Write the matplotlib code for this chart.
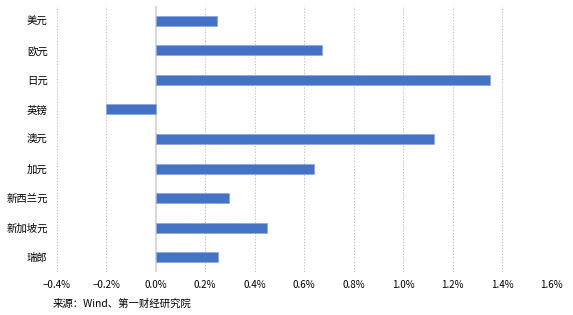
import matplotlib
matplotlib.use("Agg")
import matplotlib.pyplot as plt
from matplotlib.ticker import FuncFormatter

plt.rcParams['font.family'] = ['Noto Sans CJK SC', 'DejaVu Sans']

categories = ["美元", "欧元", "日元", "英镑", "澳元", "加元", "新西兰元", "新加坡元", "瑞郎"]
values = [0.246, 0.672, 1.352, -0.202, 1.123, 0.64, 0.296, 0.45, 0.251]
xticks = [-0.4, -0.2, 0.0, 0.2, 0.4, 0.6, 0.8, 1.0, 1.2, 1.4, 1.6]
source = "来源：Wind、第一财经研究院"

fig = plt.figure(figsize=(5.73, 3.15), dpi=100)
ax = fig.add_axes([0.099, 0.1365, 0.864, 0.8445])

ypos = list(range(len(categories)))
ax.barh(ypos, values, height=0.34, color="#4472C4", edgecolor="#8FAADC", linewidth=0.6, zorder=3)
ax.set_ylim(len(categories) - 0.5, -0.5)
ax.set_xlim(-0.4, 1.6)
ax.set_xticks(xticks)
ax.xaxis.set_major_formatter(FuncFormatter(lambda v, p: f"{v:.1f}%".replace("-", "−")))
ax.set_yticks(ypos)
ax.set_yticklabels(categories)
ax.tick_params(axis='both', length=0, labelsize=7, labelcolor="#000000")
ax.tick_params(axis='y', pad=6.5, labelsize=7.5)
ax.tick_params(axis='x', pad=6)

for x in xticks:
    if x == 0.0:
        ax.axvline(x, color="#D9D9D9", linewidth=1.5, zorder=2)
    else:
        ax.axvline(x, color="#C4C4C4", linewidth=0.7, linestyle=(0, (1.5, 1.5)), zorder=1)

for s in ax.spines.values():
    s.set_visible(False)

fig.text(53 / 573, 1 - 304 / 315, source, fontsize=7.5, va="center", ha="left")

fig.savefig("out.png", dpi=100)
